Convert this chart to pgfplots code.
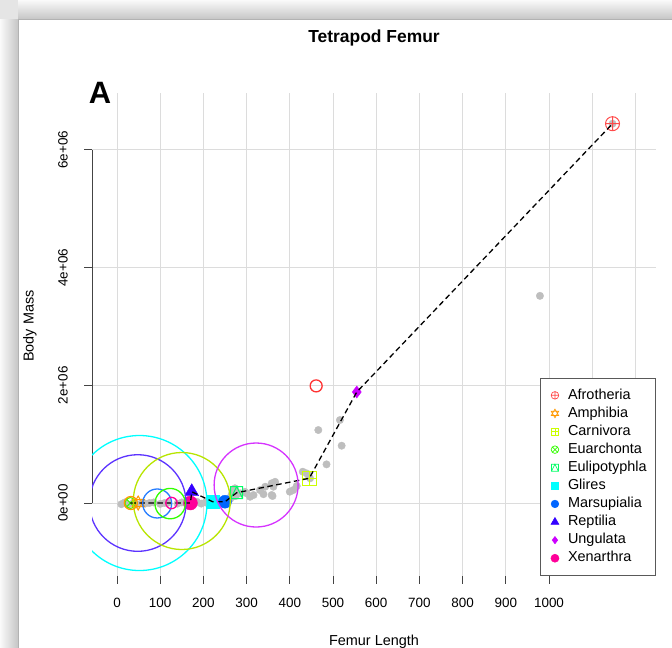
\documentclass[border=0pt]{standalone}
\usepackage{fontspec}
\setmainfont{Liberation Sans}
\usepackage{pgfplots}
\pgfplotsset{compat=1.18}

% group colours (rainbow palette)
\definecolor{cAfro}{HTML}{FF0000}
\definecolor{cAmph}{HTML}{FF9900}
\definecolor{cCarn}{HTML}{CCFF00}
\definecolor{cEuar}{HTML}{33FF00}
\definecolor{cEuli}{HTML}{00FF66}
\definecolor{cGlir}{HTML}{00FFFF}
\definecolor{cMars}{HTML}{0066FF}
\definecolor{cRept}{HTML}{3300FF}
\definecolor{cUngu}{HTML}{CC00FF}
\definecolor{cXena}{HTML}{FF0099}
\definecolor{ptgray}{HTML}{BEBEBE}
\definecolor{gridgray}{HTML}{DCDCDC}
\definecolor{axisgray}{HTML}{444444}

% star of David (two overlapping triangles)
\pgfdeclareplotmark{david}{%
  \pgfpathmoveto{\pgfqpoint{0pt}{\pgfplotmarksize}}%
  \pgfpathlineto{\pgfqpoint{0.866\pgfplotmarksize}{-0.5\pgfplotmarksize}}%
  \pgfpathlineto{\pgfqpoint{-0.866\pgfplotmarksize}{-0.5\pgfplotmarksize}}%
  \pgfpathclose
  \pgfpathmoveto{\pgfqpoint{0pt}{-\pgfplotmarksize}}%
  \pgfpathlineto{\pgfqpoint{0.866\pgfplotmarksize}{0.5\pgfplotmarksize}}%
  \pgfpathlineto{\pgfqpoint{-0.866\pgfplotmarksize}{0.5\pgfplotmarksize}}%
  \pgfpathclose
  \pgfusepathqstroke
}
% square with a plus inside
\pgfdeclareplotmark{squareplus}{%
  \pgfpathrectangle{\pgfqpoint{-\pgfplotmarksize}{-\pgfplotmarksize}}{\pgfqpoint{2\pgfplotmarksize}{2\pgfplotmarksize}}%
  \pgfpathmoveto{\pgfqpoint{-\pgfplotmarksize}{0pt}}%
  \pgfpathlineto{\pgfqpoint{\pgfplotmarksize}{0pt}}%
  \pgfpathmoveto{\pgfqpoint{0pt}{-\pgfplotmarksize}}%
  \pgfpathlineto{\pgfqpoint{0pt}{\pgfplotmarksize}}%
  \pgfusepathqstroke
}
% square with a triangle inside
\pgfdeclareplotmark{squaretri}{%
  \pgfpathrectangle{\pgfqpoint{-\pgfplotmarksize}{-\pgfplotmarksize}}{\pgfqpoint{2\pgfplotmarksize}{2\pgfplotmarksize}}%
  \pgfpathmoveto{\pgfqpoint{-\pgfplotmarksize}{-\pgfplotmarksize}}%
  \pgfpathlineto{\pgfqpoint{0pt}{\pgfplotmarksize}}%
  \pgfpathlineto{\pgfqpoint{\pgfplotmarksize}{-\pgfplotmarksize}}%
  \pgfusepathqstroke
}

\begin{document}
\begin{tikzpicture}[x=1bp,y=1bp]
\path[use as bounding box] (0,0) rectangle (672,648);
% window background with soft shadow along the top and left
\fill[white] (0,0) rectangle (672,648);
\shade[top color=gray!4, bottom color=gray!45] (18,629) rectangle (672,648);
\shade[left color=gray!4, right color=gray!45] (0,0) rectangle (18,629);
\fill[gray!20] (0,629) rectangle (18,648);
\fill[white] (18,0) rectangle (672,629);
\draw[gray!60, line width=0.6] (18,0) -- (18,629) -- (672,629);

\begin{axis}[
  at={(92bp,72bp)}, anchor=south west,
  scale only axis, width=564bp, height=483bp,
  xmin=-57.9, xmax=1247.7, ymin=-1.24e6, ymax=6.967e6,
  axis line style={draw=none},
  xtick={0,100,...,1000},
  xticklabels={0,100,200,300,400,500,600,700,800,900,1000},
  extra x ticks={1100,1200}, extra x tick labels={},
  extra x tick style={major tick length=0pt, grid=major},
  ytick={0,2e6,4e6,6e6},
  yticklabels={0e+00,2e+06,4e+06,6e+06},
  scaled y ticks=false, scaled x ticks=false,
  xtick pos=left, ytick pos=left,
  tick align=outside, major tick length=8bp,
  tick style={axisgray, line width=0.8bp},
  grid=major, grid style={gridgray, line width=1bp},
  tick label style={font=\fontsize{13.5}{15}\selectfont},
  xticklabel style={anchor=north, inner sep=0pt, yshift=-14bp},
  yticklabel style={rotate=90, anchor=south, inner sep=0pt, yshift=16bp},
  clip marker paths=true,
  legend image code/.code={\path (-7bp,0bp) (10.7bp,0bp); \draw[mark repeat=1,#1] plot coordinates {(0bp,0bp)};},
  legend cell align=left,
  legend style={at={(rel axis cs:1,0)}, anchor=south east,
    draw=gray!70!black, line width=0.6bp, fill=white,
    font=\fontsize{14.5}{16}\selectfont,
    inner xsep=7bp, inner ysep=8.4bp, row sep=0pt,
    nodes={text height=11bp, text depth=3.5bp, inner ysep=1.8bp, inner xsep=2bp}},
]
% axis lines spanning the labelled range only
\draw[axisgray, line width=0.8bp] (axis cs:-57.9,0) -- (axis cs:-57.9,6e6);
\draw[axisgray, line width=0.8bp] (axis cs:0,-1.24e6) -- (axis cs:1000,-1.24e6);

% individual specimens
\addplot[only marks, mark=*, mark size=3.7bp, color=ptgray, forget plot] coordinates {
 (10,-20000) (18,10000) (25,-30000) (38,0) (45,-20000) (58,10000) (65,-10000)
 (75,0) (85,10000) (100,-15000) (110,0) (118,5000) (140,-10000) (150,10000)
 (160,-5000) (185,20000) (195,-10000) (205,10000) (215,0) (235,20000)
 (245,40000) (262,70000) (268,110000)
 (265,136000) (269,221000) (273,250000) (275,120000) (285,165000) (296,190000)
 (300,165000) (308,107000) (316,136000) (331,220000) (339,150000) (343,277000)
 (358,335000) (362,277000) (366,360000) (360,119000) (358,136000) (400,192000)
 (408,220000) (416,290000) (430,532000) (439,504000) (447,420000) (443,476000)
 (466,1240000) (485,657000) (516,1410000) (520,974000) (979,3520000)
 (555,1886000) (1147,6445000) (277,175000)
};

% group representatives
\addplot[only marks, mark=otimes, mark size=5.5bp, color=cEuar, line width=1bp, forget plot] coordinates {(31,0)};
\addplot[only marks, mark=david, mark size=7bp, color=cAmph, line width=1bp, forget plot] coordinates {(49,0)};
\addplot[only marks, mark=*, mark size=7bp, color=cXena, forget plot] coordinates {(170,0)};
\addplot[only marks, mark=triangle*, mark size=8bp, color=cRept, forget plot] coordinates {(173,192000)};
\addplot[only marks, mark=square*, mark size=6.2bp, color=cGlir, forget plot] coordinates {(222,20000)};
\addplot[only marks, mark=*, mark size=6.5bp, color=cMars, forget plot] coordinates {(250,22000)};
\addplot[only marks, mark=squaretri, mark size=6bp, color=cEuli, line width=1bp, forget plot] coordinates {(277,175000)};
\addplot[only marks, mark=squareplus, mark size=7bp, color=cCarn, line width=1bp, forget plot] coordinates {(445,420000)};
\addplot[only marks, mark=diamond*, mark size=6bp, color=cUngu, forget plot] coordinates {(555,1886000)};
\addplot[only marks, mark=oplus, mark size=7bp, color=cAfro!70!white, line width=1bp, forget plot] coordinates {(1147,6445000)};

% path through the group representatives
\addplot[black, dashed, dash pattern=on 5.5bp off 3.5bp, line width=1.3bp, forget plot] coordinates {
 (31,0) (49,0) (170,0) (173,192000) (222,20000) (250,22000) (277,175000)
 (445,420000) (555,1886000) (1147,6445000)
};

% group spread circles
\addplot[only marks, mark=o, mark size=67.5bp, color=cGlir, line width=1.3bp, forget plot] coordinates {(52,0)};
\addplot[only marks, mark=o, mark size=48.3bp, color=cRept!80!white, line width=1.3bp, forget plot] coordinates {(48,0)};
\addplot[only marks, mark=o, mark size=48.5bp, color=cCarn!90!black, line width=1.3bp, forget plot] coordinates {(150,34000)};
\addplot[only marks, mark=o, mark size=42bp, color=cUngu!80!white, line width=1.3bp, forget plot] coordinates {(322,306000)};
\addplot[only marks, mark=o, mark size=14.5bp, color=cMars!85!white, line width=1.3bp, forget plot] coordinates {(93,-8000)};
\addplot[only marks, mark=o, mark size=15.2bp, color=cEuar, line width=1.3bp, forget plot] coordinates {(123,-10000)};
\addplot[only marks, mark=o, mark size=5.7bp, color=cXena, line width=1.3bp, forget plot] coordinates {(126,0)};
\addplot[only marks, mark=o, mark size=6.5bp, color=cAmph, line width=1.3bp, forget plot] coordinates {(32,0)};
\addplot[only marks, mark=o, mark size=6bp, color=cAfro!80!white, line width=1.3bp, forget plot] coordinates {(461,1990000)};

% legend
\addlegendimage{only marks, mark=oplus, mark size=3.8bp, color=cAfro!70!white, line width=0.7bp}
\addlegendentry{Afrotheria}
\addlegendimage{only marks, mark=david, mark size=4.3bp, color=cAmph, line width=0.7bp}
\addlegendentry{Amphibia}
\addlegendimage{only marks, mark=squareplus, mark size=3.5bp, color=cCarn, line width=0.7bp}
\addlegendentry{Carnivora}
\addlegendimage{only marks, mark=otimes, mark size=3.8bp, color=cEuar, line width=0.7bp}
\addlegendentry{Euarchonta}
\addlegendimage{only marks, mark=squaretri, mark size=3.5bp, color=cEuli, line width=0.7bp}
\addlegendentry{Eulipotyphla}
\addlegendimage{only marks, mark=square*, mark size=3.5bp, color=cGlir}
\addlegendentry{Glires}
\addlegendimage{only marks, mark=*, mark size=3.8bp, color=cMars}
\addlegendentry{Marsupialia}
\addlegendimage{only marks, mark=triangle*, mark size=4.5bp, color=cRept}
\addlegendentry{Reptilia}
\addlegendimage{only marks, mark=diamond*, mark size=3.6bp, color=cUngu}
\addlegendentry{Ungulata}
\addlegendimage{only marks, mark=*, mark size=4bp, color=cXena}
\addlegendentry{Xenarthra}
\end{axis}

% titles and axis labels
\node[font=\bfseries\fontsize{17.5}{20}\selectfont] at (374,610) {Tetrapod Femur};
\node[font=\bfseries\fontsize{31}{34}\selectfont] at (100,555) {A};
\node[rotate=90, font=\fontsize{14.5}{16}\selectfont] at (30,322) {Body Mass};
\node[font=\fontsize{14.5}{16}\selectfont] at (374,6) {Femur Length};
\end{tikzpicture}
\end{document}
